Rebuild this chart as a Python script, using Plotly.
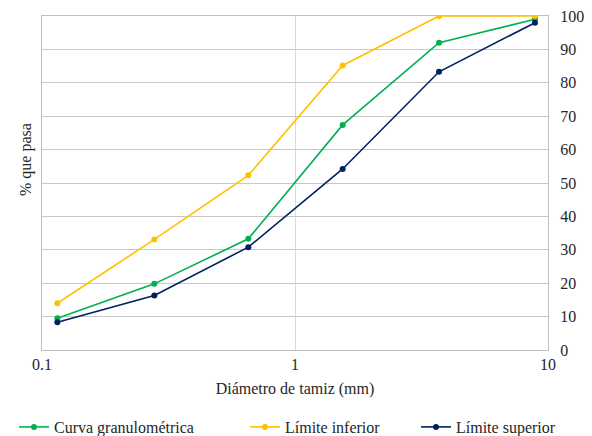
import plotly.graph_objects as go

diametro = [0.115, 0.278, 0.654, 1.543, 3.71, 8.88]
curva = [9.5, 19.8, 33.3, 67.4, 92.0, 99.0]
lim_inf = [14.0, 33.1, 52.3, 85.2, 100.0, 100.0]
lim_sup = [8.3, 16.3, 30.8, 54.2, 83.3, 98.0]

series = [
    ("Curva granulométrica", curva, "#00B050", "legend", 14),
    ("Límite inferior", lim_inf, "#FFC000", "legend2", 245),
    ("Límite superior", lim_sup, "#002060", "legend3", 416),
]

W, H = 592, 436
font = "Liberation Serif, DejaVu Serif"
fnt = dict(family=font, size=16, color="#262626")
fig = go.Figure()
legends = {}
for name, vals, col, lg, lx in series:
    fig.add_trace(go.Scatter(
        x=diametro, y=vals, name=name, mode="lines+markers",
        line=dict(color=col, width=1.6),
        marker=dict(color=col, size=6),
        legend=lg,
    ))
    legends[lg] = dict(orientation="h", xref="container", yref="container",
                       x=lx / W, xanchor="left", y=1 - 427 / H, yanchor="middle",
                       font=fnt, itemwidth=30, bgcolor="rgba(0,0,0,0)")

fig.update_layout(
    width=W, height=H,
    margin=dict(l=42, r=44, t=16, b=86, autoexpand=False),
    paper_bgcolor="white", plot_bgcolor="white",
    font=fnt,
    showlegend=True,
    xaxis=dict(type="log", range=[-1, 1], tickvals=[0.1, 1, 10], ticktext=["0.1", "1", "10"],
               showgrid=True, gridcolor="#d9d9d9", gridwidth=1,
               showline=True, linecolor="#bfbfbf", linewidth=1, mirror=True,
               ticks="", zeroline=False, automargin=False, tickfont=fnt,
               title=dict(text="Diámetro de tamiz (mm)", standoff=10, font=fnt)),
    yaxis=dict(range=[0, 100], dtick=10, side="right",
               showgrid=True, gridcolor="#c8c8c8", gridwidth=1,
               showline=True, linecolor="#bfbfbf", linewidth=1, mirror=True,
               tickfont=fnt, ticks="", zeroline=False, ticklabelstandoff=8, automargin=False),
    **legends,
)
fig.add_annotation(text="% que pasa", textangle=-90, xref="paper", yref="paper",
                   x=(26 - 42) / (W - 86), xanchor="center", y=(350 - 160) / 334, yanchor="middle",
                   showarrow=False, font=fnt)

post = """
document.body.style.margin='0px';
var gd = document.getElementById('{plot_id}');
function rd(){ try { Plotly.redraw(gd); } catch(e) {} }
setTimeout(rd, 60);
setTimeout(rd, 250);
"""
fig.write_html("out.html", post_script=post, config={"displayModeBar": False})
